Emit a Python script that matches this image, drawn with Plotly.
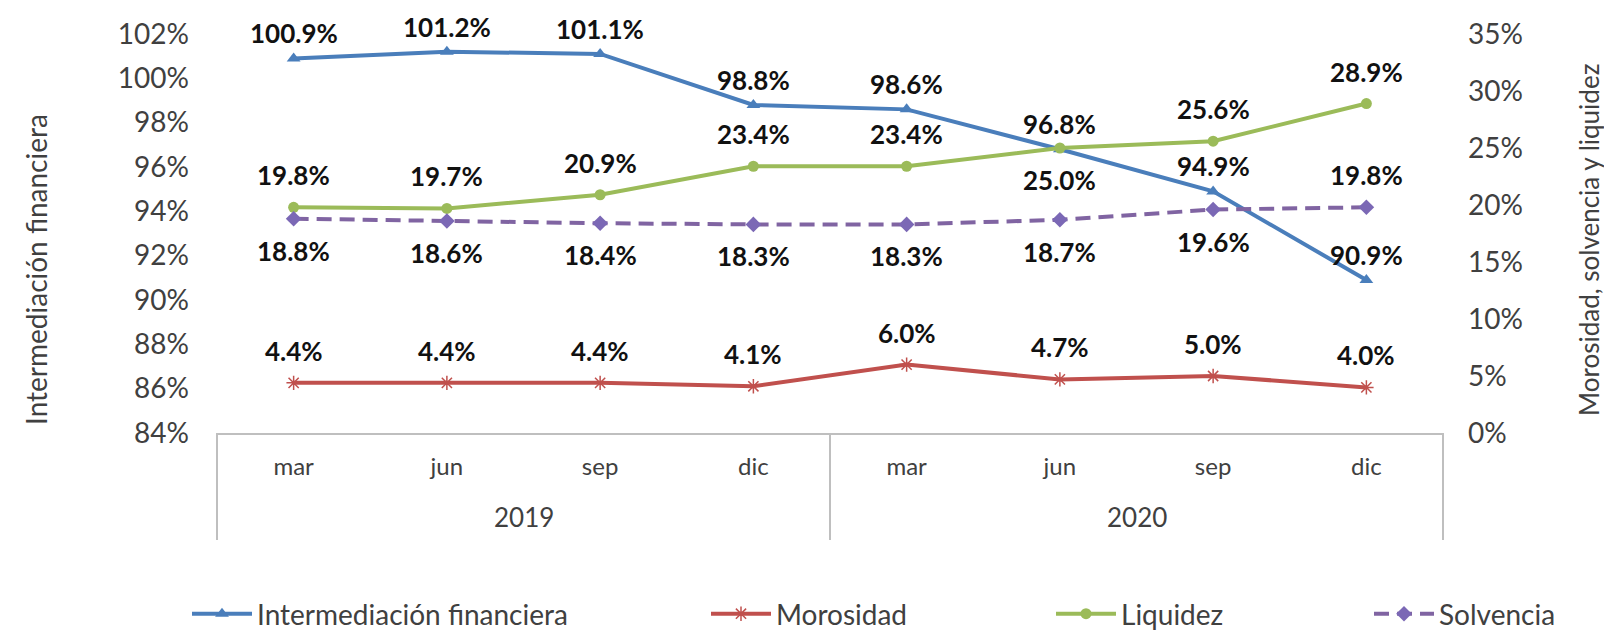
import plotly.graph_objects as go

# ---- data ----
months = ["mar", "jun", "sep", "dic", "mar", "jun", "sep", "dic"]
years = ["2019", "2020"]
intermediacion = [100.9, 101.2, 101.1, 98.8, 98.6, 96.8, 94.9, 90.9]
morosidad = [4.4, 4.4, 4.4, 4.1, 6.0, 4.7, 5.0, 4.0]
liquidez = [19.8, 19.7, 20.9, 23.4, 23.4, 25.0, 25.6, 28.9]
solvencia = [18.8, 18.6, 18.4, 18.3, 18.3, 18.7, 19.6, 19.8]

left_ticks = list(range(84, 103, 2))
right_ticks = list(range(0, 36, 5))

# label placement (+1 above, -1 below)
pos_inter = [1, 1, 1, 1, 1, 1, 1, 1]
pos_moro = [1, 1, 1, 1, 1, 1, 1, 1]
pos_liq = [1, 1, 1, 1, 1, -1, 1, 1]
pos_solv = [-1, -1, -1, -1, -1, -1, -1, 1]

W, H = 1612, 632
L, R, T, B = 209, 1435, 26, 425

def px(xp):
    return (xp - L) / (R - L)

def py(yp):
    return (B - yp) / (B - T)

xi = list(range(len(months)))

FONT = "Lato"
TICK_COLOR = "#404040"

fig = go.Figure()

fig.add_trace(go.Scatter(
    x=xi, y=intermediacion, yaxis="y", mode="lines+markers",
    name="Intermediación financiera",
    line=dict(color="#4A7EBB", width=4),
    marker=dict(symbol="triangle-up", size=12, color="#4A7EBB"),
    legend="legend",
))
fig.add_trace(go.Scatter(
    x=xi, y=morosidad, yaxis="y2", mode="lines+markers",
    name="Morosidad",
    line=dict(color="#C0504D", width=4),
    marker=dict(symbol="asterisk-open", size=12, color="#C0504D",
                line=dict(color="#E06666", width=1.5)),
    legend="legend2",
))
fig.add_trace(go.Scatter(
    x=xi, y=liquidez, yaxis="y2", mode="lines+markers",
    name="Liquidez",
    line=dict(color="#9BBB59", width=4),
    marker=dict(symbol="circle", size=11, color="#9BBB59"),
    legend="legend3",
))
fig.add_trace(go.Scatter(
    x=xi, y=solvencia, yaxis="y2", mode="lines+markers",
    name="Solvencia",
    line=dict(color="#8064A2", width=4, dash="15px,8px"),
    marker=dict(symbol="diamond", size=12, color="#7B68B5"),
    legend="legend4",
))

annotations = []

def add_labels(vals, positions, yref, shift=32):
    for i, (v, p) in enumerate(zip(vals, positions)):
        annotations.append(dict(
            x=xi[i], y=v, xref="x", yref=yref,
            text=f"{v:.1f}%", showarrow=False,
            xanchor="center", yanchor="middle",
            yshift=shift * p,
            font=dict(family=FONT, size=26, color="#111111", weight="bold"),
        ))

add_labels(intermediacion, pos_inter, "y", shift=25)
add_labels(morosidad, pos_moro, "y2")
add_labels(liquidez, pos_liq, "y2")
add_labels(solvencia, pos_solv, "y2")

# year group labels
n_per_year = len(months) // len(years)
for k, yr in enumerate(years):
    annotations.append(dict(
        x=k * n_per_year + (n_per_year - 1) / 2, y=py(509),
        xref="x", yref="paper", text=yr, showarrow=False,
        xanchor="center", yanchor="middle",
        font=dict(family=FONT, size=26, color=TICK_COLOR),
    ))

# axis titles
annotations.append(dict(
    x=px(28), y=py(262), xref="paper", yref="paper",
    text="Intermediación financiera", textangle=-90, showarrow=False,
    xanchor="center", yanchor="middle",
    font=dict(family=FONT, size=28, color=TICK_COLOR),
))
annotations.append(dict(
    x=px(1581), y=py(232), xref="paper", yref="paper",
    text="Morosidad, solvencia y liquidez", textangle=-90, showarrow=False,
    xanchor="center", yanchor="middle",
    font=dict(family=FONT, size=26, color=TICK_COLOR),
))

# category box dividers
shapes = []
for xp in [0, 0.5, 1]:
    shapes.append(dict(type="line", xref="paper", yref="paper",
                       x0=xp, x1=xp, y0=0, y1=py(532),
                       line=dict(color="#BFBFBF", width=2)))

leg_common = dict(orientation="h", yanchor="bottom", xanchor="left",
                  y=py(631), bgcolor="rgba(0,0,0,0)", itemwidth=60,
                  font=dict(family=FONT, size=28, color=TICK_COLOR))

fig.update_layout(
    width=W, height=H,
    margin=dict(l=L, r=W - R, t=T, b=H - B, autoexpand=False),
    plot_bgcolor="white", paper_bgcolor="white",
    showlegend=True,
    xaxis=dict(
        range=[-0.5, len(months) - 0.5],
        tickmode="array", tickvals=xi, ticktext=months,
        showgrid=False, zeroline=False,
        showline=True, linecolor="#BFBFBF", linewidth=2,
        ticks="", ticklabelstandoff=11,
        tickfont=dict(family=FONT, size=24, color=TICK_COLOR),
    ),
    yaxis=dict(
        range=[84, 102], tickmode="array", tickvals=left_ticks,
        ticktext=[f"{v}%" for v in left_ticks],
        showgrid=False, zeroline=False, showline=False, ticks="",
        ticklabelstandoff=27,
        tickfont=dict(family=FONT, size=28, color=TICK_COLOR),
    ),
    yaxis2=dict(
        range=[0, 35], tickmode="array", tickvals=right_ticks,
        ticktext=[f"{v}%" for v in right_ticks],
        overlaying="y", side="right",
        showgrid=False, zeroline=False, showline=False, ticks="",
        ticklabelstandoff=24,
        tickfont=dict(family=FONT, size=28, color=TICK_COLOR),
    ),
    legend=dict(x=px(179), **leg_common),
    legend2=dict(x=px(698), **leg_common),
    legend3=dict(x=px(1043), **leg_common),
    legend4=dict(x=px(1361), **leg_common),
    annotations=annotations,
    shapes=shapes,
)

fig.write_html("out.html")
